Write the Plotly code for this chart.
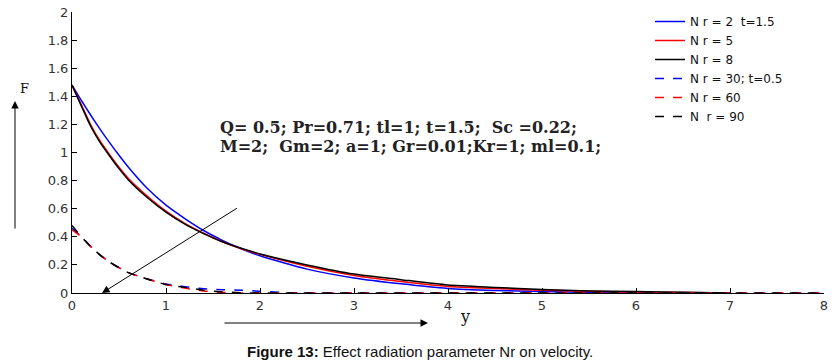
import plotly.graph_objects as go

# ---- data ----
x_solid = [0, 0.1, 0.2, 0.3, 0.4, 0.5, 0.6, 0.8, 1.0, 1.2, 1.4, 1.6, 1.8, 2.0,
           2.5, 3.0, 3.5, 4.0, 4.5, 5.0, 5.5, 6.0, 6.5, 7.0]
nr2 = [1.48, 1.37, 1.265, 1.165, 1.07, 0.98, 0.895, 0.745, 0.625, 0.53, 0.445, 0.375, 0.315, 0.265,
       0.17, 0.107, 0.065, 0.032, 0.018, 0.01, 0.005, 0.002, 0.0, 0.0]
nr5 = [1.48, 1.34, 1.195, 1.08, 0.985, 0.895, 0.815, 0.69, 0.582, 0.495, 0.425, 0.365, 0.315, 0.275,
       0.19, 0.125, 0.082, 0.047, 0.032, 0.02, 0.012, 0.007, 0.003, 0.0]
nr8 = [1.48, 1.33, 1.185, 1.07, 0.975, 0.885, 0.805, 0.68, 0.575, 0.49, 0.423, 0.365, 0.318, 0.278,
       0.20, 0.135, 0.095, 0.057, 0.04, 0.025, 0.015, 0.01, 0.005, 0.0]

x_dash = [0, 0.1, 0.2, 0.3, 0.4, 0.5, 0.6, 0.8, 1.0, 1.2, 1.4, 1.6, 1.8, 2.0, 2.2, 2.4,
          3.0, 4.0, 5.0, 6.0, 7.0, 8.0]
nr30 = [0.46, 0.40, 0.33, 0.27, 0.22, 0.18, 0.145, 0.10, 0.065, 0.045, 0.03, 0.024, 0.02,
        0.012, 0.005, 0.0, 0, 0, 0, 0, 0, 0]
nr60 = [0.45, 0.40, 0.33, 0.27, 0.22, 0.18, 0.145, 0.10, 0.06, 0.035, 0.015, 0.005, 0.0,
        0, 0, 0, 0, 0, 0, 0, 0, 0]
nr90 = [0.48, 0.40, 0.33, 0.27, 0.22, 0.18, 0.145, 0.10, 0.06, 0.04, 0.02, 0.008, 0.002,
        0, 0, 0, 0, 0, 0, 0, 0, 0]

legend_names = ["N r = 2  t=1.5", "N r = 5", "N r = 8", "N r = 30; t=0.5", "N r = 60", "N  r = 90"]
x_ticks = [0, 1, 2, 3, 4, 5, 6, 7, 8]
y_ticks = [0, 0.2, 0.4, 0.6, 0.8, 1, 1.2, 1.4, 1.6, 1.8, 2]
y_tick_text = ["0", "0.2", "0.4", "0.6", "0.8", "1", "1.2", "1.4", "1.6", "1.8", "2"]

params_line1 = "Q= 0.5; Pr=0.71; tl=1; t=1.5;  Sc =0.22;"
params_line2 = "M=2;  Gm=2; a=1; Gr=0.01;Kr=1; ml=0.1;"
caption_bold = "Figure 13:"
caption_rest = " Effect radiation parameter Nr on velocity."

fig = go.Figure()
series = [
    (x_solid, nr2, "#0000ff", "solid"),
    (x_solid, nr5, "#ff0000", "solid"),
    (x_solid, nr8, "#000000", "solid"),
    (x_dash, nr30, "#0000ff", "dash"),
    (x_dash, nr60, "#ff0000", "dash"),
    (x_dash, nr90, "#000000", "dash"),
]
for (xs, ys, col, dash), name in zip(series, legend_names):
    fig.add_trace(go.Scatter(x=xs, y=ys, mode="lines", name=name,
                             line=dict(color=col, width=1.5, dash=dash, shape="spline",
                                       smoothing=0.6)))

W, H = 834, 364
L, R, T, B = 72, 10, 12, 71
pw, ph = W - L - R, H - T - B


def px_x(p):
    return (p - L) / pw


def px_y(p):
    return (H - B - p) / ph


sans = "DejaVu Sans, Verdana, sans-serif"
serif = "DejaVu Serif, Liberation Serif, serif"

fig.update_layout(
    width=W, height=H,
    margin=dict(l=L, r=R, t=T, b=B, autoexpand=False),
    paper_bgcolor="white", plot_bgcolor="white",
    font=dict(family=sans, size=12, color="#222"),
    showlegend=True,
    legend=dict(x=px_x(650), y=px_y(7), xanchor="left", yanchor="top",
                bgcolor="rgba(0,0,0,0)", borderwidth=0, tracegroupgap=0,
                font=dict(family=sans, size=12, color="#111")),
    xaxis=dict(range=[0, 8], tickvals=x_ticks, ticks="inside", ticklen=5,
               showline=True, linecolor="black", linewidth=1, showgrid=False,
               zeroline=False, tickcolor="black",
               tickfont=dict(family=sans, size=13, color="#333")),
    yaxis=dict(range=[0, 2], tickvals=y_ticks, ticktext=y_tick_text, ticks="inside",
               ticklen=5, showline=True, linecolor="black", linewidth=1, showgrid=False,
               zeroline=False, tickcolor="black",
               tickfont=dict(family=sans, size=13, color="#333")),
)

annos = [
    dict(xref="paper", yref="paper", x=px_x(218), y=px_y(127), xanchor="left", yanchor="middle",
         text="<b>" + params_line1 + "</b>", showarrow=False,
         font=dict(family=serif, size=16, color="#222")),
    dict(xref="paper", yref="paper", x=px_x(218), y=px_y(146), xanchor="left", yanchor="middle",
         text="<b>" + params_line2 + "</b>", showarrow=False,
         font=dict(family=serif, size=16, color="#222")),
    # data arrow
    dict(xref="x", yref="y", x=0.32, y=0.0, axref="x", ayref="y", ax=1.77, ay=0.61,
         text="", showarrow=True, arrowhead=2, arrowsize=1.5, arrowwidth=1, arrowcolor="black"),
    # F label and arrow
    dict(xref="paper", yref="paper", x=px_x(18), y=px_y(79), text="F", showarrow=False,
         font=dict(family=serif, size=13, color="#111")),
    dict(xref="paper", yref="paper", x=px_x(15), y=px_y(101), ax=0, ay=129,
         text="", showarrow=True, arrowhead=2, arrowsize=1.5, arrowwidth=1, arrowcolor="black"),
    # y label and arrow
    dict(xref="paper", yref="paper", x=px_x(465), y=px_y(328), text="y", showarrow=False,
         font=dict(family=serif, size=16, color="#111")),
    dict(xref="paper", yref="paper", x=px_x(428), y=px_y(323), ax=-205, ay=0,
         text="", showarrow=True, arrowhead=2, arrowsize=1.5, arrowwidth=1, arrowcolor="black"),
    # caption
    dict(xref="paper", yref="paper", x=px_x(420), y=px_y(351), xanchor="center", yanchor="middle",
         text="<b>" + caption_bold + "</b>" + caption_rest, showarrow=False,
         font=dict(family="Liberation Sans, Arial", size=15, color="#111")),
]
fig.update_layout(annotations=annos)

fig.write_html("out.html", config={"displayModeBar": False},
               post_script="document.body.style.margin='0';document.body.style.overflow='hidden';")
